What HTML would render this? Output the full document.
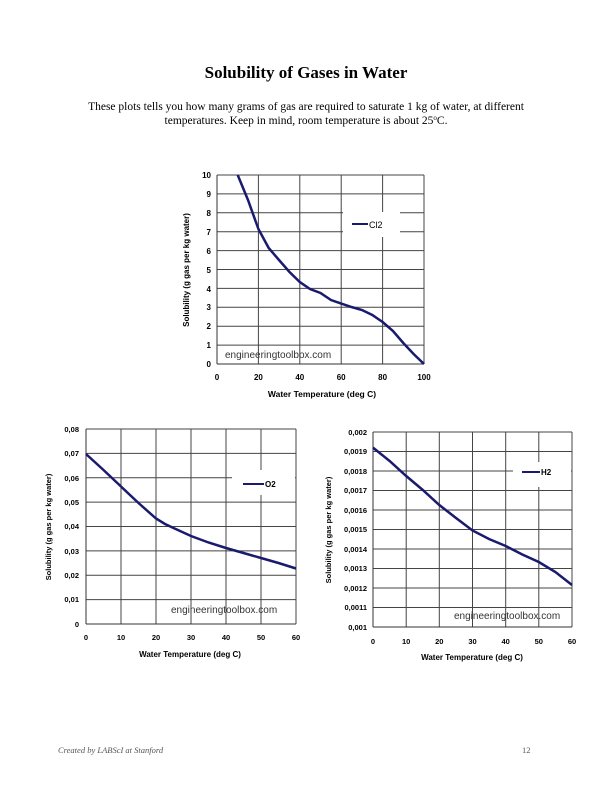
<!DOCTYPE html>
<html><head><meta charset="utf-8"><style>
body{margin:0;background:#fff;}
svg{display:block}
.t{font-family:"Liberation Serif",serif;}
.s{font-family:"Liberation Sans",sans-serif;}
</style></head><body>
<svg width="612" height="792" xmlns="http://www.w3.org/2000/svg">
<rect width="612" height="792" fill="#fff"/>
<text class="t" x="306" y="78" text-anchor="middle" font-size="17" font-weight="bold">Solubility of Gases in Water</text>
<text class="t" x="306" y="110" text-anchor="middle" font-size="11.5">These plots tells you how many grams of gas are required to saturate 1 kg of water, at different</text>
<text class="t" x="306" y="124" text-anchor="middle" font-size="11.5">temperatures. Keep in mind, room temperature is about 25<tspan font-size="7" dy="-4">o</tspan><tspan dy="4">C.</tspan></text>

<!-- Chart 1 Cl2 -->
<g class="s">
<g stroke="#444" stroke-width="1">
<line x1="217" y1="175" x2="424" y2="175"/><line x1="217" y1="193.9" x2="424" y2="193.9"/><line x1="217" y1="212.8" x2="424" y2="212.8"/><line x1="217" y1="231.7" x2="424" y2="231.7"/><line x1="217" y1="250.6" x2="424" y2="250.6"/><line x1="217" y1="269.5" x2="424" y2="269.5"/><line x1="217" y1="288.4" x2="424" y2="288.4"/><line x1="217" y1="307.3" x2="424" y2="307.3"/><line x1="217" y1="326.2" x2="424" y2="326.2"/><line x1="217" y1="345.1" x2="424" y2="345.1"/>
<line x1="258.4" y1="175" x2="258.4" y2="364"/><line x1="299.8" y1="175" x2="299.8" y2="364"/><line x1="341.2" y1="175" x2="341.2" y2="364"/><line x1="382.6" y1="175" x2="382.6" y2="364"/><line x1="424" y1="175" x2="424" y2="364"/>
</g>
<rect x="343" y="212" width="57" height="25" fill="#fff"/>
<line x1="217" y1="175" x2="217" y2="364" stroke="#333"/><line x1="217" y1="364" x2="424" y2="364" stroke="#333"/>
<polyline fill="none" stroke="#1a1a6e" stroke-width="2.5" points="237.7,175 248,200 258.4,229 268.7,248 279,260 289.5,272 299.8,282 310,289 320.5,293 331,300 341.2,303.6 351.5,307 362,310 372.3,315 382.6,322 393,331 403.3,343 413.6,354 424,364"/>
<line x1="352" y1="224" x2="368" y2="224" stroke="#1a1a6e" stroke-width="2"/>
<text x="369" y="228" font-size="9">Cl2</text>
<text x="225" y="358" font-size="10" fill="#333">engineeringtoolbox.com</text>
<g font-size="8" font-weight="bold" text-anchor="end">
<text x="211" y="178">10</text><text x="211" y="197">9</text><text x="211" y="216">8</text><text x="211" y="235">7</text><text x="211" y="254">6</text><text x="211" y="273">5</text><text x="211" y="292">4</text><text x="211" y="310">3</text><text x="211" y="329">2</text><text x="211" y="348">1</text><text x="211" y="367">0</text>
</g>
<g font-size="8" font-weight="bold" text-anchor="middle">
<text x="217" y="380">0</text><text x="258.4" y="380">20</text><text x="299.8" y="380">40</text><text x="341.2" y="380">60</text><text x="382.6" y="380">80</text><text x="424" y="380">100</text>
</g>
<text x="322" y="397" font-size="8.5" font-weight="bold" text-anchor="middle">Water Temperature (deg C)</text>
<text transform="translate(189,270) rotate(-90)" font-size="8" font-weight="bold" text-anchor="middle">Solubility (g gas per kg water)</text>
</g>

<!-- Chart 2 O2 -->
<g class="s">
<g stroke="#444" stroke-width="1">
<line x1="86" y1="429" x2="296" y2="429"/><line x1="86" y1="453.4" x2="296" y2="453.4"/><line x1="86" y1="477.8" x2="296" y2="477.8"/><line x1="86" y1="502.1" x2="296" y2="502.1"/><line x1="86" y1="526.5" x2="296" y2="526.5"/><line x1="86" y1="550.9" x2="296" y2="550.9"/><line x1="86" y1="575.3" x2="296" y2="575.3"/><line x1="86" y1="599.6" x2="296" y2="599.6"/>
<line x1="121" y1="429" x2="121" y2="624"/><line x1="156" y1="429" x2="156" y2="624"/><line x1="191" y1="429" x2="191" y2="624"/><line x1="226" y1="429" x2="226" y2="624"/><line x1="261" y1="429" x2="261" y2="624"/><line x1="296" y1="429" x2="296" y2="624"/>
</g>
<rect x="232" y="470" width="63" height="25" fill="#fff"/>
<line x1="86" y1="429" x2="86" y2="624" stroke="#333"/><line x1="86" y1="624" x2="296" y2="624" stroke="#333"/>
<polyline fill="none" stroke="#1a1a6e" stroke-width="2.5" points="86,454 103.5,470 121,486.5 138.5,503 156,518.5 165,524 173.5,528 191,536 208.5,542.5 226,548 243.5,553 261,558 278.5,563 296,568.5"/>
<line x1="243" y1="484" x2="264" y2="484" stroke="#1a1a6e" stroke-width="2"/>
<text x="265" y="487" font-size="8" font-weight="bold">O2</text>
<text x="171" y="613" font-size="10" fill="#333">engineeringtoolbox.com</text>
<g font-size="7.5" font-weight="bold" text-anchor="end">
<text x="79" y="432">0,08</text><text x="79" y="456">0,07</text><text x="79" y="481">0,06</text><text x="79" y="505">0,05</text><text x="79" y="529">0,04</text><text x="79" y="554">0,03</text><text x="79" y="578">0,02</text><text x="79" y="602">0,01</text><text x="79" y="627">0</text>
</g>
<g font-size="7.5" font-weight="bold" text-anchor="middle">
<text x="86" y="640">0</text><text x="121" y="640">10</text><text x="156" y="640">20</text><text x="191" y="640">30</text><text x="226" y="640">40</text><text x="261" y="640">50</text><text x="296" y="640">60</text>
</g>
<text x="190" y="657" font-size="8" font-weight="bold" text-anchor="middle">Water Temperature (deg C)</text>
<text transform="translate(51,527) rotate(-90)" font-size="7.5" font-weight="bold" text-anchor="middle">Solubility (g gas per kg water)</text>
</g>

<!-- Chart 3 H2 -->
<g class="s">
<g stroke="#444" stroke-width="1">
<line x1="373" y1="432" x2="572" y2="432"/><line x1="373" y1="451.5" x2="572" y2="451.5"/><line x1="373" y1="471" x2="572" y2="471"/><line x1="373" y1="490.5" x2="572" y2="490.5"/><line x1="373" y1="510" x2="572" y2="510"/><line x1="373" y1="529.5" x2="572" y2="529.5"/><line x1="373" y1="549" x2="572" y2="549"/><line x1="373" y1="568.5" x2="572" y2="568.5"/><line x1="373" y1="588" x2="572" y2="588"/><line x1="373" y1="607.5" x2="572" y2="607.5"/>
<line x1="406.2" y1="432" x2="406.2" y2="627"/><line x1="439.3" y1="432" x2="439.3" y2="627"/><line x1="472.5" y1="432" x2="472.5" y2="627"/><line x1="505.7" y1="432" x2="505.7" y2="627"/><line x1="538.8" y1="432" x2="538.8" y2="627"/><line x1="572" y1="432" x2="572" y2="627"/>
</g>
<rect x="513" y="462" width="58" height="25" fill="#fff"/>
<line x1="373" y1="432" x2="373" y2="627" stroke="#333"/><line x1="373" y1="627" x2="572" y2="627" stroke="#333"/>
<polyline fill="none" stroke="#1a1a6e" stroke-width="2.5" points="373,447.6 389.6,461 406.2,476 422.8,490 439.3,505 456,518 472.5,530.5 489,539 505.7,546 522.3,554.5 538.8,562 555.4,572 572,585"/>
<line x1="522" y1="472" x2="540" y2="472" stroke="#1a1a6e" stroke-width="2"/>
<text x="541" y="475" font-size="8" font-weight="bold">H2</text>
<text x="454" y="619" font-size="10" fill="#333">engineeringtoolbox.com</text>
<g font-size="7.5" font-weight="bold" text-anchor="end">
<text x="367" y="435">0,002</text><text x="367" y="454">0,0019</text><text x="367" y="474">0,0018</text><text x="367" y="493">0,0017</text><text x="367" y="513">0,0016</text><text x="367" y="532">0,0015</text><text x="367" y="552">0,0014</text><text x="367" y="571">0,0013</text><text x="367" y="591">0,0012</text><text x="367" y="610">0,0011</text><text x="367" y="630">0,001</text>
</g>
<g font-size="7.5" font-weight="bold" text-anchor="middle">
<text x="373" y="644">0</text><text x="406.2" y="644">10</text><text x="439.3" y="644">20</text><text x="472.5" y="644">30</text><text x="505.7" y="644">40</text><text x="538.8" y="644">50</text><text x="572" y="644">60</text>
</g>
<text x="472" y="660" font-size="8" font-weight="bold" text-anchor="middle">Water Temperature (deg C)</text>
<text transform="translate(331,530) rotate(-90)" font-size="7.5" font-weight="bold" text-anchor="middle">Solubility (g gas per kg water)</text>
</g>

<text class="t" x="58" y="753" font-size="8.5" font-style="italic" fill="#555">Created by LABScI at Stanford</text>
<text class="t" x="522" y="753" font-size="8.5" fill="#555">12</text>
</svg>
</body></html>
